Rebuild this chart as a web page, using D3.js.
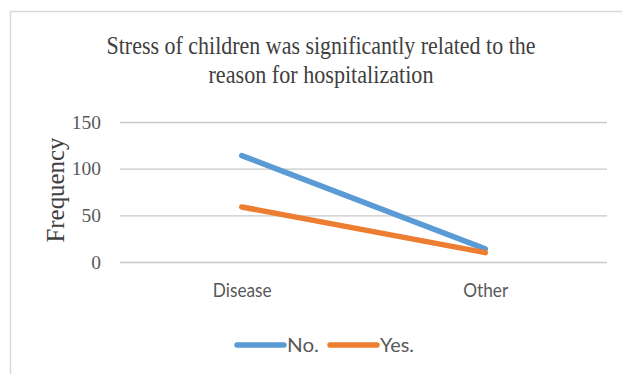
<!DOCTYPE html>
<html>
<head>
<meta charset="utf-8">
<script src="https://cdn.jsdelivr.net/npm/d3@7"></script>
<style>
  html, body { margin: 0; padding: 0; background: #fff; }
  svg { display: block; }
</style>
</head>
<body>
<div id="chart"></div>
<script>
// Data: reason for hospitalization vs. child stress
const categories = ["Disease", "Other"];
const seriesNames = ["No.", "Yes."];
const noValues = [114, 14];
const yesValues = [59, 10];
const yTicks = [0, 50, 100, 150];
const colors = ["#5B9BD5", "#ED7D31"];

const W = 622, H = 374;
const margin = { left: 120, right: 15 };
const serif = "'Liberation Serif', 'Times New Roman', serif";
const sans = "Lato, 'Open Sans', sans-serif";

const svg = d3.select("#chart").append("svg")
  .attr("width", W).attr("height", H);

// chart frame
svg.append("rect")
  .attr("x", 10.5).attr("y", 11.5)
  .attr("width", W + 10).attr("height", H + 10)
  .attr("fill", "#fff").attr("stroke", "#d9d9d9").attr("stroke-width", 1.5);

const x = d3.scalePoint()
  .domain(categories)
  .range([margin.left, W - margin.right])
  .padding(0.5);

const y = d3.scaleLinear()
  .domain([0, 150])
  .range([262, 122]);

// gridlines
const grid = d3.axisLeft(y).tickValues(yTicks)
  .tickSize(-(W - margin.right - margin.left)).tickFormat("");
svg.append("g")
  .attr("transform", `translate(${margin.left},0)`)
  .call(grid)
  .call(g => g.select(".domain").remove())
  .call(g => g.selectAll("line").attr("stroke", "#c8c8c8").attr("stroke-width", 1.3));

// y tick labels
const yAxis = d3.axisLeft(y).tickValues(yTicks).tickSize(0).tickPadding(19);
svg.append("g")
  .attr("transform", `translate(${margin.left},0)`)
  .call(yAxis)
  .call(g => g.select(".domain").remove())
  .call(g => g.selectAll("text")
    .attr("font-family", serif)
    .attr("font-size", 19.5).attr("fill", "#595959"));

// x category labels
const labelWidths = { Disease: 59, Other: 45 };
const xAxis = d3.axisBottom(x).tickSize(0).tickPadding(22);
svg.append("g")
  .attr("transform", `translate(0,${y(0)})`)
  .call(xAxis)
  .call(g => g.select(".domain").remove())
  .call(g => g.selectAll("text")
    .attr("font-family", sans)
    .attr("font-size", 19).attr("fill", "#595959")
    .attr("textLength", d => labelWidths[d])
    .attr("lengthAdjust", "spacingAndGlyphs"));

// lines
const line = d3.line()
  .x((d, i) => x(categories[i]))
  .y(d => y(d));

[noValues, yesValues].forEach((vals, i) => {
  svg.append("path")
    .datum(vals)
    .attr("d", line)
    .attr("fill", "none")
    .attr("stroke", colors[i])
    .attr("stroke-width", 5.5)
    .attr("stroke-linecap", "round");
});

// title
const titleLines = [
  { text: "Stress of children was significantly related to the", y: 54, w: 429 },
  { text: "reason for hospitalization", y: 83, w: 225 }
];
svg.append("g").selectAll("text")
  .data(titleLines)
  .join("text")
  .attr("x", 321).attr("y", d => d.y)
  .attr("text-anchor", "middle")
  .attr("font-family", serif)
  .attr("font-size", 26).attr("fill", "#404040")
  .attr("textLength", d => d.w)
  .attr("lengthAdjust", "spacingAndGlyphs")
  .text(d => d.text);

// y axis title
svg.append("text")
  .attr("transform", "translate(64,190) rotate(-90)")
  .attr("text-anchor", "middle")
  .attr("font-family", serif)
  .attr("font-size", 25).attr("fill", "#404040")
  .attr("textLength", 105)
  .attr("lengthAdjust", "spacingAndGlyphs")
  .text("Frequency");

// legend
const legendX = [237, 330];
const legendW = [32, 34];
seriesNames.forEach((name, i) => {
  const g = svg.append("g").attr("transform", `translate(${legendX[i]},345)`);
  g.append("line")
    .attr("x1", 0).attr("x2", 47).attr("y1", 0).attr("y2", 0)
    .attr("stroke", colors[i]).attr("stroke-width", 5.5)
    .attr("stroke-linecap", "round");
  g.append("text")
    .attr("x", 50).attr("y", 7)
    .attr("font-family", sans)
    .attr("font-size", 20).attr("fill", "#595959")
    .attr("textLength", legendW[i])
    .attr("lengthAdjust", "spacingAndGlyphs")
    .text(name);
});
</script>
</body>
</html>
